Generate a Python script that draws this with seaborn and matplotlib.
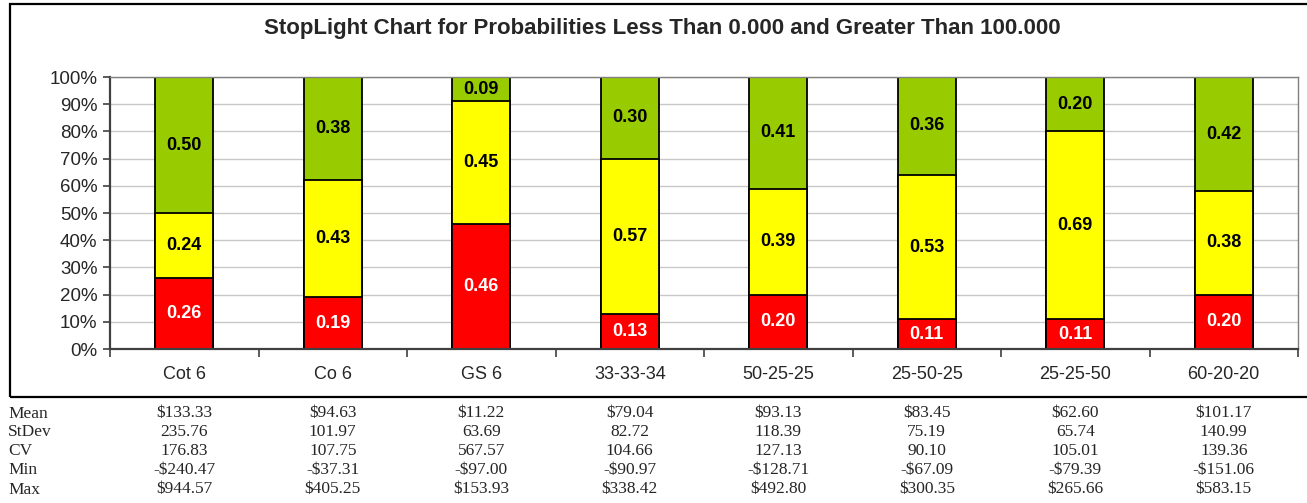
import numpy as np
import pandas as pd
import matplotlib
matplotlib.use("Agg")
import matplotlib.pyplot as plt
import matplotlib.transforms as mtransforms
from matplotlib.patches import Rectangle
import seaborn as sns

# Datos
categorias = ["Cot 6", "Co 6", "GS 6", "33-33-34", "50-25-25", "25-50-25", "25-25-50", "60-20-20"]
rojo = [0.26, 0.19, 0.46, 0.13, 0.20, 0.11, 0.11, 0.20]
amarillo = [0.24, 0.43, 0.45, 0.57, 0.39, 0.53, 0.69, 0.38]
verde = [0.50, 0.38, 0.09, 0.30, 0.41, 0.36, 0.20, 0.42]

filas_tabla = ["Mean", "StDev", "CV", "Min", "Max"]
mean_vals = ["$133.33", "$94.63", "$11.22", "$79.04", "$93.13", "$83.45", "$62.60", "$101.17"]
stdev_vals = ["235.76", "101.97", "63.69", "82.72", "118.39", "75.19", "65.74", "140.99"]
cv_vals = ["176.83", "107.75", "567.57", "104.66", "127.13", "90.10", "105.01", "139.36"]
min_vals = ["-$240.47", "-$37.31", "-$97.00", "-$90.97", "-$128.71", "-$67.09", "-$79.39", "-$151.06"]
max_vals = ["$944.57", "$405.25", "$153.93", "$338.42", "$492.80", "$300.35", "$265.66", "$583.15"]

df = pd.DataFrame({"cat": categorias, "rojo": rojo, "amarillo": amarillo, "verde": verde})
df["base_amarillo"] = df["rojo"]
df["tope_amarillo"] = df["rojo"] + df["amarillo"]
df["tope_verde"] = df["tope_amarillo"] + df["verde"]

sns.set_style("white")
plt.rcParams["font.family"] = ["Liberation Sans", "DejaVu Sans"]

fig = plt.figure(figsize=(13.07, 5.03), dpi=100)
ax = fig.add_axes([110 / 1307, 154 / 503, 1188 / 1307, 272 / 503])

ancho = 0.39
borde = dict(edgecolor="black", linewidth=1.3, width=ancho, saturation=1)
sns.barplot(data=df, x="cat", y="tope_verde", color="#99CC00", ax=ax, **borde)
sns.barplot(data=df, x="cat", y="tope_amarillo", color="#FFFF00", ax=ax, **borde)
sns.barplot(data=df, x="cat", y="rojo", color="#FF0000", ax=ax, **borde)

# etiquetas de cada segmento
for i, fila in df.iterrows():
    ax.text(i, fila["rojo"] / 2, f"{fila['rojo']:.2f}", ha="center", va="center",
            color="white", fontsize=13, fontweight="bold")
    ax.text(i, fila["base_amarillo"] + fila["amarillo"] / 2, f"{fila['amarillo']:.2f}",
            ha="center", va="center", color="black", fontsize=13, fontweight="bold")
    ax.text(i, fila["tope_amarillo"] + fila["verde"] / 2, f"{fila['verde']:.2f}",
            ha="center", va="center", color="black", fontsize=13, fontweight="bold")

ax.set_xlim(-0.5, len(categorias) - 0.5)
ax.set_ylim(0, 1)
ax.set_yticks(np.arange(0, 1.01, 0.1))
ax.set_yticklabels([f"{int(round(v * 100))}%" for v in np.arange(0, 1.01, 0.1)])
ax.set_xlabel("")
ax.set_ylabel("")
ax.set_axisbelow(True)
ax.yaxis.grid(True, color="#c8c8c8", linewidth=1)
ax.tick_params(axis="y", direction="out", length=5, width=1.2, color="#404040",
               labelsize=13.5, pad=4, left=True)
ax.set_xticks(np.arange(-0.5, len(categorias), 1), minor=True)
ax.tick_params(axis="x", which="major", length=0, labelsize=13, pad=12)
ax.tick_params(axis="x", which="minor", direction="out", length=6, width=1.2, color="#404040",
               bottom=True)
for lado in ["left", "bottom"]:
    ax.spines[lado].set_color("#404040")
    ax.spines[lado].set_linewidth(1.6)
for lado in ["top", "right"]:
    ax.spines[lado].set_visible(True)
    ax.spines[lado].set_color("#808080")
    ax.spines[lado].set_linewidth(1)

fig.text(0.507, 0.944, "StopLight Chart for Probabilities Less Than 0.000 and Greater Than 100.000",
         ha="center", va="center", fontsize=16, fontweight="bold")

# marco exterior
fig.patches.append(Rectangle((10 / 1307, 106 / 503), 1.02, 393 / 503, transform=fig.transFigure,
                             fill=False, edgecolor="black", linewidth=1.6, clip_on=False))

# tabla de estadisticas
trans = mtransforms.blended_transform_factory(ax.transData, fig.transFigure)
valores = [mean_vals, stdev_vals, cv_vals, min_vals, max_vals]
ys = [413.5, 432, 451, 470, 489.5]
for nombre, vals, y in zip(filas_tabla, valores, ys):
    yf = 1 - y / 503
    fig.text(8 / 1307, yf, nombre, ha="left", va="center", fontsize=12.5,
             family=["Liberation Serif", "DejaVu Serif"])
    for i, v in enumerate(vals):
        ax.text(i, yf, v, transform=trans, ha="center", va="center", fontsize=12.5,
                family=["Liberation Serif", "DejaVu Serif"], clip_on=False)

fig.savefig("out.png", dpi=100)
